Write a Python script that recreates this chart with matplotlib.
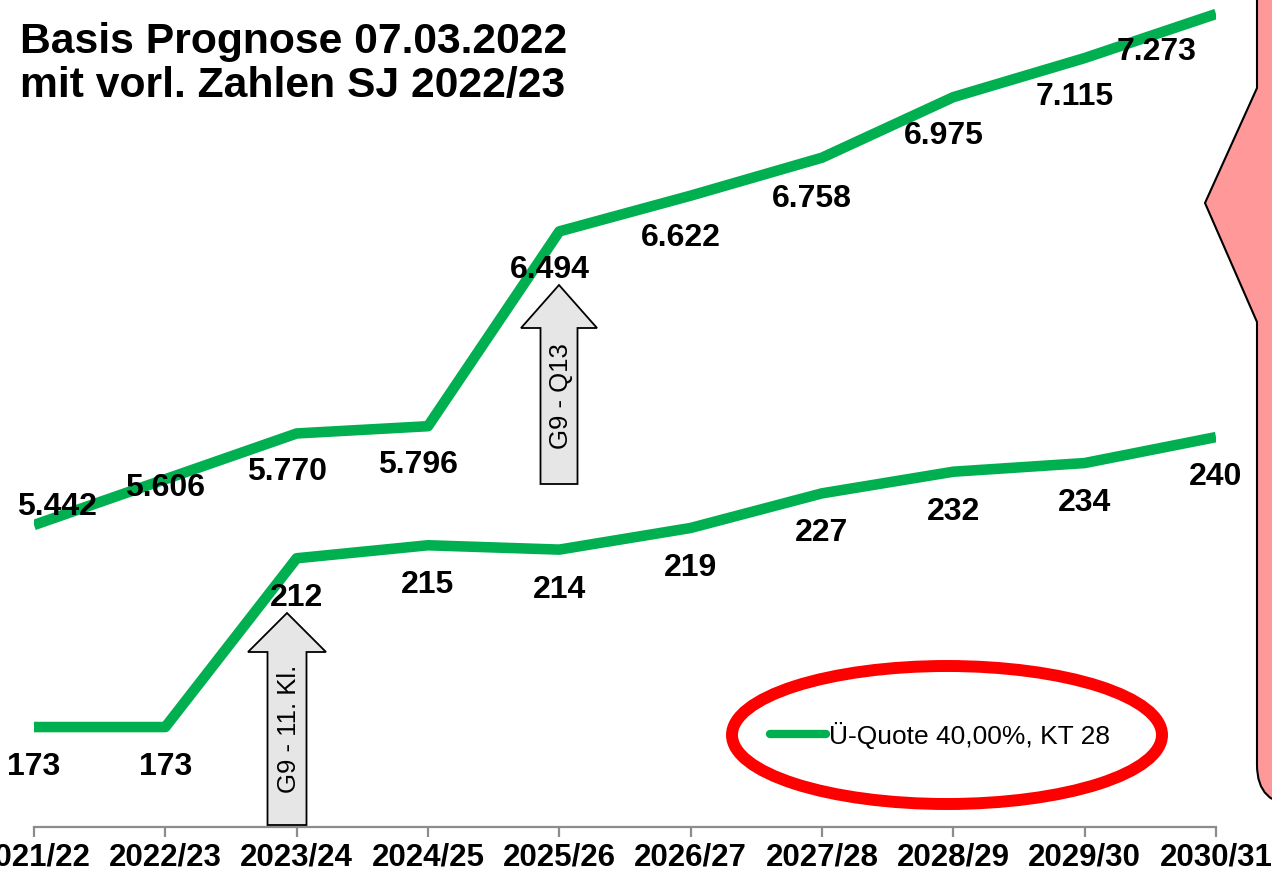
import matplotlib
matplotlib.use('Agg')
import matplotlib.pyplot as plt
from matplotlib.patches import Polygon, Ellipse, PathPatch
from matplotlib.path import Path

plt.rcParams['font.family'] = ['Liberation Sans', 'DejaVu Sans']

# Daten
jahre = ['2021/22', '2022/23', '2023/24', '2024/25', '2025/26',
         '2026/27', '2027/28', '2028/29', '2029/30', '2030/31']
schueler = [5442, 5606, 5770, 5796, 6494, 6622, 6758, 6975, 7115, 7273]
klassen = [173, 173, 212, 215, 214, 219, 227, 232, 234, 240]
schueler_txt = ['5.442', '5.606', '5.770', '5.796', '6.494',
                '6.622', '6.758', '6.975', '7.115', '7.273']
legende = 'Ü-Quote 40,00%, KT 28'

gruen = '#00B050'
W, H = 1272, 871

fig = plt.figure(figsize=(W / 100, H / 100), dpi=100)
ax = fig.add_axes([34 / W, 1 - 827 / H, (1216 - 34) / W, 827 / H])
ax2 = ax.twinx()

x = list(range(len(jahre)))
ax.plot(x, schueler, color=gruen, lw=7.6, solid_joinstyle='round', solid_capstyle='butt', zorder=2)
ax2.plot(x, klassen, color=gruen, lw=7.6, solid_joinstyle='round', solid_capstyle='butt',
         label=legende, zorder=2)

ax.set_xlim(0, 9)
ax.set_ylim(4360, 7323)
ax2.set_ylim(149.9, 341)

# Datenbeschriftungen (Verschiebung in Pixel)
off_oben = [(23, -18), (0, 9), (-10, 39), (-10, 39), (-10, 39),
            (-10, 42), (-10, 41), (-10, 39), (-10, 39), (-59, 38)]
for xi, v, t, (dx, dy) in zip(x, schueler, schueler_txt, off_oben):
    ax.annotate(t, (xi, v), xytext=(dx * 0.72, -dy * 0.72), textcoords='offset points',
                ha='center', va='center', fontsize=23, fontweight='bold', zorder=5)
for xi, v in zip(x, klassen):
    ax2.annotate(str(v), (xi, v), xytext=(0, -40 * 0.72), textcoords='offset points',
                 ha='center', va='center', fontsize=23, fontweight='bold', zorder=5)

for a in (ax, ax2):
    for s in ['top', 'left', 'right', 'bottom']:
        a.spines[s].set_visible(False)
    a.set_yticks([])
ax.spines['bottom'].set_visible(True)
ax.spines['bottom'].set_color('#8C8C8C')
ax.spines['bottom'].set_linewidth(1.6)
ax.set_xticks(x)
ax.set_xticklabels(jahre, fontsize=22.5, fontweight='bold')
ax.tick_params(axis='x', direction='out', length=7.5, width=1.6, color='#8C8C8C', pad=4)

# Legende
leg = ax2.legend(loc='center', bbox_to_anchor=(0.7665, 0.111), frameon=False,
                 fontsize=19, handlelength=2.1, handletextpad=0.1)
for h in leg.get_lines():
    h.set_linewidth(6)
    h.set_solid_capstyle('round')


def px(xp, yp):
    return (xp / W, 1 - yp / H)


# Rote Ellipse
fig.patches.append(Ellipse(px(947, 735), 430 / W, 138 / H, fill=False, edgecolor='#FF0000',
                           lw=8.6, transform=fig.transFigure, zorder=3))


# Blockpfeile
def pfeil(xc, tip, base, bottom, hw, sw, text):
    pts = [(xc, tip), (xc + hw, base), (xc + sw, base), (xc + sw, bottom),
           (xc - sw, bottom), (xc - sw, base), (xc - hw, base)]
    fig.patches.append(Polygon([px(*p) for p in pts], closed=True, facecolor='#E7E6E6',
                               edgecolor='black', lw=1.3, transform=fig.transFigure, zorder=3))
    xt, yt = px(xc + 2, (base + bottom) / 2 - 10)
    fig.text(xt, yt, text, rotation=90, ha='center', va='center', fontsize=18.5, zorder=4)


pfeil(559, 285, 328, 484, 38, 18.5, 'G9 - Q13')
pfeil(287, 613, 652, 825, 39, 19.5, 'G9 - 11. Kl.')

# Rosa Legendenform rechts
verts = [px(1257, -20), px(1257, 88), px(1205, 203), px(1257, 322), px(1257, 765),
         px(1257, 805), px(1297, 805), px(1330, 805), px(1330, -20), px(1257, -20)]
codes = [Path.MOVETO, Path.LINETO, Path.LINETO, Path.LINETO, Path.LINETO,
         Path.CURVE3, Path.CURVE3, Path.LINETO, Path.LINETO, Path.CLOSEPOLY]
fig.patches.append(PathPatch(Path(verts, codes), facecolor='#FF9999', edgecolor='black',
                             lw=1.5, transform=fig.transFigure, zorder=3))

# Titel
fig.text(20 / W, 1 - 53 / H, 'Basis Prognose 07.03.2022', fontsize=30.7, fontweight='bold',
         va='baseline', ha='left')
fig.text(20 / W, 1 - 97 / H, 'mit vorl. Zahlen SJ 2022/23', fontsize=30.7, fontweight='bold',
         va='baseline', ha='left')

fig.savefig('out.png', dpi=100)
